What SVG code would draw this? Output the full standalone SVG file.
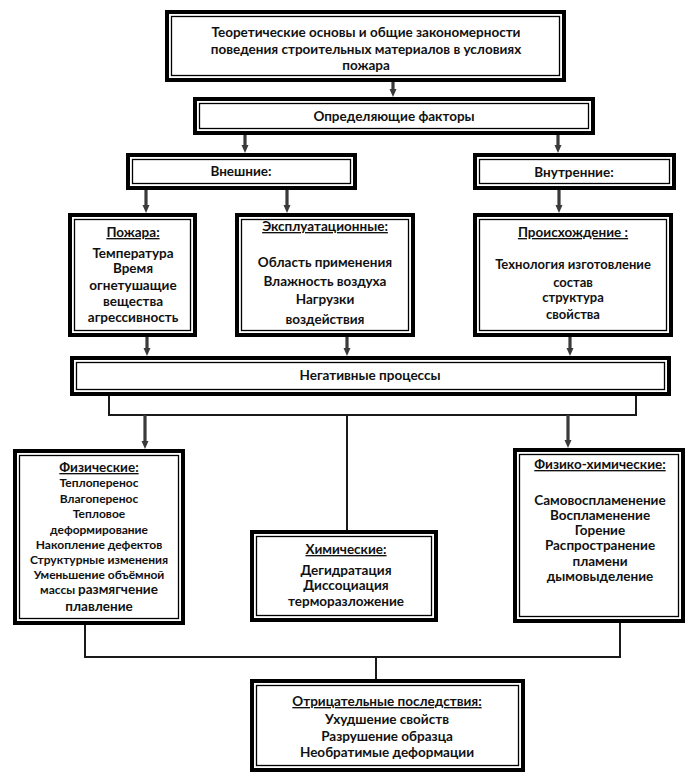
<svg xmlns="http://www.w3.org/2000/svg" width="695" height="778" viewBox="0 0 695 778">
<style>
.outer{fill:#fff;stroke:#000;stroke-width:4}
.inner{fill:none;stroke:#000;stroke-width:1.3}
.t{font-family:Lato,"Liberation Sans",sans-serif;font-weight:bold;font-size:13.5px;text-anchor:middle;fill:#111}
.s{font-size:12px}
.m{font-size:13px}
.u{text-decoration:underline}
.arr{stroke:#3a3a3a;stroke-width:3.2;fill:none;marker-end:url(#ah)}
.ln{stroke:#1a1a1a;stroke-width:2;fill:none}
</style>
<defs>
<marker id="ah" viewBox="0 0 8 8" refX="2" refY="4" markerWidth="8" markerHeight="8" markerUnits="userSpaceOnUse" orient="auto">
<path d="M0,0.5 L8,4 L0,7.5 z" fill="#3a3a3a"/>
</marker>
</defs>
<rect width="695" height="778" fill="#fff"/>

<g id="connectors">
<path class="arr" d="M393,82 V91"/>
<path class="arr" d="M245,135 V147"/>
<path class="arr" d="M558,135 V147"/>
<path class="arr" d="M146,190 V207"/>
<path class="arr" d="M287,190 V207"/>
<path class="arr" d="M559,190 V207"/>
<path class="arr" d="M147,337 V350"/>
<path class="arr" d="M347,337 V350"/>
<path class="arr" d="M570,337 V350"/>
<path class="ln" d="M109,396 V415 H636 V396"/>
<path class="arr" d="M145,415 V443"/>
<path class="arr" d="M568,415 V442"/>
<path class="ln" d="M347,415 V530"/>
<path class="ln" d="M85,625 V657 H620 V623"/>
<path class="ln" d="M376,657 V679"/>
</g>

<g id="theory">
<rect class="outer" x="167" y="12" width="397" height="68"/>
<rect class="inner" x="171.5" y="16.5" width="388" height="59"/>
<text class="t" x="366" y="37">Теоретические основы и общие закономерности</text>
<text class="t" x="366" y="54">поведения строительных материалов в условиях</text>
<text class="t" x="366" y="70">пожара</text>
</g>

<g id="factors">
<rect class="outer" x="195" y="99" width="398" height="34"/>
<rect class="inner" x="199.5" y="103.5" width="389" height="25"/>
<text class="t" x="394" y="121">Определяющие факторы</text>
</g>

<g id="external">
<rect class="outer" x="128" y="155" width="227" height="33"/>
<rect class="inner" x="132.5" y="159.5" width="218" height="24"/>
<text class="t" x="241" y="176">Внешние:</text>
</g>

<g id="internal">
<rect class="outer" x="475" y="155" width="199" height="33"/>
<rect class="inner" x="479.5" y="159.5" width="190" height="24"/>
<text class="t" x="574" y="177">Внутренние:</text>
</g>

<g id="fire">
<rect class="outer" x="70" y="215" width="125" height="120"/>
<rect class="inner" x="74.5" y="219.5" width="116" height="111"/>
<text class="t u" x="133" y="237">Пожара:</text>
<text class="t" x="133" y="258">Температура</text>
<text class="t" x="133" y="273">Время</text>
<text class="t" x="133" y="290">огнетушащие</text>
<text class="t" x="133" y="306">вещества</text>
<text class="t" x="133" y="322">агрессивность</text>
</g>

<g id="operational">
<rect class="outer" x="237" y="215" width="176" height="120"/>
<rect class="inner" x="241.5" y="219.5" width="167" height="111"/>
<text class="t u" x="325" y="231">Эксплуатационные:</text>
<text class="t" x="325" y="267">Область применения</text>
<text class="t" x="325" y="286">Влажность воздуха</text>
<text class="t" x="325" y="304">Нагрузки</text>
<text class="t" x="325" y="324">воздействия</text>
</g>

<g id="origin">
<rect class="outer" x="475" y="215" width="196" height="120"/>
<rect class="inner" x="479.5" y="219.5" width="187" height="111"/>
<text class="t u" x="573" y="237">Происхождение :</text>
<text class="t m" x="573" y="269">Технология изготовление</text>
<text class="t m" x="573" y="287">состав</text>
<text class="t m" x="573" y="302">структура</text>
<text class="t m" x="573" y="319">свойства</text>
</g>

<g id="negative">
<rect class="outer" x="72" y="358" width="597" height="36"/>
<rect class="inner" x="76.5" y="362.5" width="588" height="27"/>
<text class="t" x="370" y="380">Негативные процессы</text>
</g>

<g id="physical">
<rect class="outer" x="15" y="451" width="168" height="172"/>
<rect class="inner" x="19.5" y="455.5" width="159" height="163"/>
<text class="t u" x="99" y="472">Физические:</text>
<text class="t s" x="99" y="487">Теплоперенос</text>
<text class="t s" x="99" y="503">Влагоперенос</text>
<text class="t s" x="99" y="518">Тепловое</text>
<text class="t s" x="99" y="534">деформирование</text>
<text class="t s" x="99" y="549">Накопление дефектов</text>
<text class="t s" x="99" y="564">Структурные изменения</text>
<text class="t s" x="99" y="579">Уменьшение объёмной</text>
<text class="t s" x="99" y="594">массы <tspan style="font-size:13.5px">размягчение</tspan></text>
<text class="t" x="99" y="611">плавление</text>
</g>

<g id="chemical">
<rect class="outer" x="252" y="532" width="184" height="88"/>
<rect class="inner" x="256.5" y="536.5" width="175" height="79"/>
<text class="t u" x="346" y="554">Химические:</text>
<text class="t" x="346" y="575">Дегидратация</text>
<text class="t" x="346" y="590">Диссоциация</text>
<text class="t" x="346" y="606">терморазложение</text>
</g>

<g id="physchem">
<rect class="outer" x="515" y="450" width="168" height="171"/>
<rect class="inner" x="519.5" y="454.5" width="159" height="162"/>
<text class="t u" x="600" y="469">Физико-химические:</text>
<text class="t" x="600" y="505">Самовоспламенение</text>
<text class="t" x="600" y="520">Воспламенение</text>
<text class="t" x="600" y="535">Горение</text>
<text class="t" x="600" y="550">Распространение</text>
<text class="t" x="600" y="566">пламени</text>
<text class="t" x="600" y="581">дымовыделение</text>
</g>

<g id="consequences">
<rect class="outer" x="252" y="681" width="271" height="89"/>
<rect class="inner" x="256.5" y="685.5" width="262" height="80"/>
<text class="t u" x="387" y="706">Отрицательные последствия:</text>
<text class="t" x="387" y="724">Ухудшение свойств</text>
<text class="t" x="387" y="741">Разрушение образца</text>
<text class="t" x="387" y="757">Необратимые деформации</text>
</g>
</svg>
